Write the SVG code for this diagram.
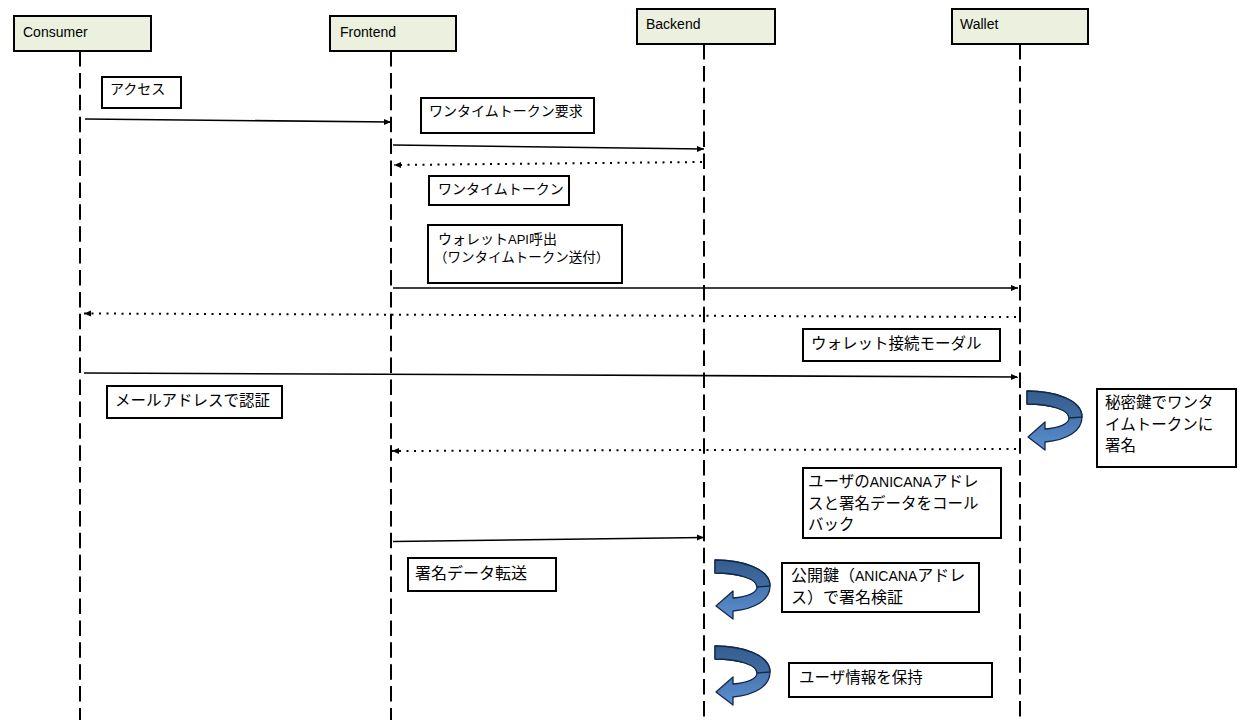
<svg xmlns="http://www.w3.org/2000/svg" width="1251" height="720" viewBox="0 0 1251 720">
<style>
.hdr{fill:#ebf1de;stroke:#000;stroke-width:2}
.box{fill:#fff;stroke:#000;stroke-width:2}
.ht{font-family:"Liberation Sans",Arial,sans-serif;font-size:14px;fill:#000}
.jp{font-family:"Noto Sans CJK JP",sans-serif;fill:#000}
.en{font-family:"Liberation Sans Narrow","Liberation Sans",Arial,sans-serif}
.life{stroke:#000;stroke-width:2;stroke-dasharray:15.5 6.4;fill:none}
.msg{stroke:#000;stroke-width:1.6;fill:none;marker-end:url(#ah)}
.ret{stroke:#000;stroke-width:2;stroke-dasharray:2 5.5;fill:none;marker-end:url(#ah)}
.ua{stroke:#14294a;stroke-width:1.3;stroke-linejoin:round}
</style>
<defs>
<marker id="ah" markerUnits="userSpaceOnUse" markerWidth="9" markerHeight="8" refX="7" refY="3.5" orient="auto">
<path d="M0,0.5 L7,3.5 L0,6.5 Z" fill="#000"/>
</marker>
<linearGradient id="g1" x1="0" y1="0" x2="0" y2="1">
<stop offset="0" stop-color="#3a6598"/>
<stop offset="0.45" stop-color="#4876b0"/>
<stop offset="1" stop-color="#5b8fd0"/>
</linearGradient>
<linearGradient id="g2" x1="0" y1="0" x2="0" y2="1">
<stop offset="0" stop-color="#355d8e"/>
<stop offset="1" stop-color="#416da3"/>
</linearGradient>
<g id="uturn">
<path class="ua" fill="url(#g1)" d="M0,0 C28,0 55,9 55,26 C55,40 40,49 18,51 L18,59 L1,46 L18,31 L18,38 C32,37 42,33 42,27 C42,19 24,13 0,13 Z"/>
<path class="ua" fill="url(#g2)" d="M0,0 C28,0 55,9 55,26 L42,27 C42,19 24,13 0,13 Z"/>
</g>
</defs>
<rect width="1251" height="720" fill="#fff"/>

<g id="lifelines">
<line class="life" x1="80" y1="51" x2="80" y2="720"/>
<line class="life" x1="391" y1="51" x2="391" y2="720"/>
<line class="life" x1="704" y1="44" x2="704" y2="720"/>
<line class="life" x1="1020" y1="44" x2="1020" y2="720"/>
</g>

<g id="consumer"><rect class="hdr" x="14" y="16" width="137" height="35"/><text class="ht" x="23" y="36.5">Consumer</text></g>
<g id="frontend"><rect class="hdr" x="330" y="16" width="126" height="35"/><text class="ht" x="340" y="36.5">Frontend</text></g>
<g id="backend"><rect class="hdr" x="637" y="9" width="138" height="35"/><text class="ht" x="646" y="29">Backend</text></g>
<g id="wallet"><rect class="hdr" x="952" y="9" width="136" height="35"/><text class="ht" x="960" y="29">Wallet</text></g>

<g id="connectors">
<line class="msg" x1="85" y1="119" x2="391" y2="122"/>
<line class="msg" x1="393" y1="145" x2="704" y2="149"/>
<line class="ret" x1="702" y1="162" x2="394" y2="165"/>
<line class="msg" x1="393" y1="288" x2="1018" y2="288"/>
<line class="ret" x1="1016" y1="317" x2="84" y2="313.5"/>
<line class="msg" x1="84" y1="373" x2="1018" y2="377"/>
<line class="ret" x1="1016" y1="449" x2="392" y2="451"/>
<line class="msg" x1="393" y1="541.5" x2="704" y2="537.5"/>
</g>

<g id="self-arrows">
<use href="#uturn" transform="translate(1027,391)"/>
<use href="#uturn" transform="translate(715,560)"/>
<use href="#uturn" transform="translate(715,646)"/>
</g>

<g id="n-access"><rect class="box" x="102" y="77" width="79" height="31"/><text class="jp" font-size="14" x="110" y="94">アクセス</text></g>
<g id="n-token-req"><rect class="box" x="421" y="98" width="173" height="35"/><text class="jp" font-size="14" x="429" y="116">ワンタイムトークン要求</text></g>
<g id="n-token"><rect class="box" x="429" y="176" width="140" height="29"/><text class="jp" font-size="14" x="438" y="194">ワンタイムトークン</text></g>
<g id="n-wallet-api"><rect class="box" x="428" y="225" width="194" height="58"/>
<text class="jp" font-size="14" x="438" y="244">ウォレット<tspan class="en" font-size="13">API</tspan>呼出</text>
<text class="jp" font-size="13.5" x="434" y="262">（ワンタイムトークン送付）</text></g>
<g id="n-modal"><rect class="box" x="803" y="329" width="197" height="32"/><text class="jp" font-size="15.5" x="811" y="349">ウォレット接続モーダル</text></g>
<g id="n-mail"><rect class="box" x="107" y="386" width="175" height="32"/><text class="jp" font-size="15.5" x="115" y="405.5">メールアドレスで認証</text></g>
<g id="n-sign"><rect class="box" x="1097" y="389" width="139" height="78"/>
<text class="jp" font-size="15.5" x="1105" y="408">秘密鍵でワンタ</text>
<text class="jp" font-size="15.5" x="1105" y="429.5">イムトークンに</text>
<text class="jp" font-size="15.5" x="1105" y="451">署名</text></g>
<g id="n-callback"><rect class="box" x="803" y="468" width="198" height="70"/>
<text class="jp" font-size="15.5" x="808" y="487">ユーザの<tspan class="en" font-size="14">ANICANA</tspan>アドレ</text>
<text class="jp" font-size="15.5" x="808" y="508.5">スと署名データをコール</text>
<text class="jp" font-size="15.5" x="808" y="530">バック</text></g>
<g id="n-transfer"><rect class="box" x="408" y="558" width="148" height="33"/><text class="jp" font-size="16" x="415" y="579">署名データ転送</text></g>
<g id="n-verify"><rect class="box" x="782" y="563" width="197" height="49"/>
<text class="jp" font-size="16" x="791" y="580.5">公開鍵（<tspan class="en" font-size="14">ANICANA</tspan>アドレ</text>
<text class="jp" font-size="16" x="791" y="602.5">ス）で署名検証</text></g>
<g id="n-store"><rect class="box" x="789" y="663" width="203" height="34"/><text class="jp" font-size="15.5" x="799" y="682.5">ユーザ情報を保持</text></g>
</svg>
